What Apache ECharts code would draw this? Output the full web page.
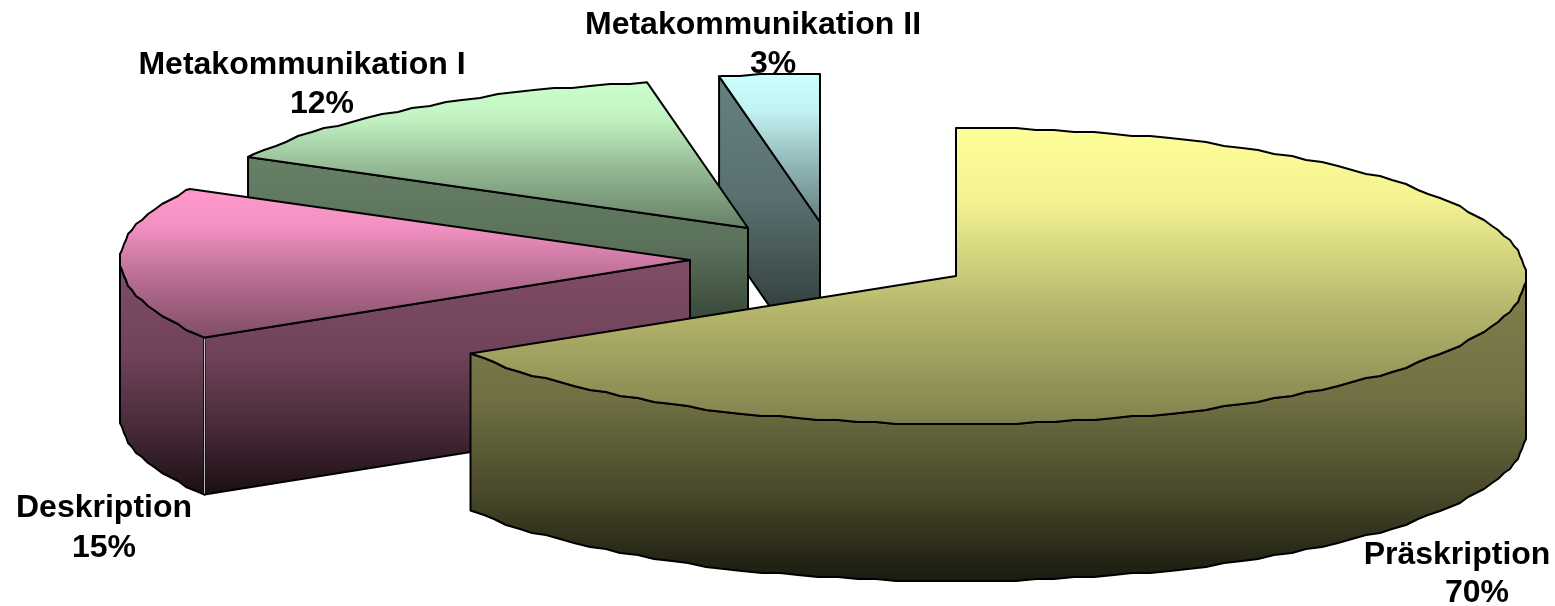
<!DOCTYPE html>
<html>
<head>
<meta charset="utf-8">
<style>html,body{margin:0;padding:0;background:#fff}#chart{width:1555px;height:606px}</style>
<script src="https://cdn.jsdelivr.net/npm/echarts@6/dist/echarts.min.js"></script>
</head>
<body>
<div id="chart"></div>
<script>
// Share of each text category, clockwise from twelve o'clock.
const categories = ['Präskription', 'Deskription', 'Metakommunikation I', 'Metakommunikation II'];
const shares = [70, 15, 12, 3];
const baseColors = [[255, 255, 153], [255, 153, 204], [204, 255, 204], [204, 255, 255]];

// Projection of the tilted disc.
const RX = 570, RY = 148, DEPTH = 157, SNAP = 2, ARC_STEP = 2;
// Perspective shift (degrees) of each slice boundary on the projected rim.
const boundaryShift = [0, -13.6, -7.3, 0.6, 0];
// Exploded apex of each slice and the placement of its two label lines.
const apexes = [[956, 276], [690, 260], [748, 228], [820, 222]];
const labelSpots = [
  { name: [1457, 565], pct: [1477, 603] },
  { name: [104, 518], pct: [104, 558] },
  { name: [302, 75], pct: [322, 114] },
  { name: [753, 35], pct: [773, 74] }
];
// Brightness falloff down the top faces and the side walls.
const topFade = [[0, 1], [0.25, 0.95], [0.6, 0.72], [1, 0.5]];
const wallFade = [[0, 0.5], [0.4, 0.44], [0.7, 0.29], [1, 0.1]];

const total = shares.reduce((a, b) => a + b, 0);
const cumulative = [0];
shares.forEach((v, i) => cumulative.push(cumulative[i] + v));
const angleAt = i => cumulative[i] / total * 360 + boundaryShift[i];

function snap(v) { return Math.round(v / SNAP) * SNAP; }

function rimPoint(apex, deg, dy) {
  const r = deg * Math.PI / 180;
  return [apex[0] + RX * Math.sin(r), apex[1] - RY * Math.cos(r) + (dy || 0)];
}

// Rim polyline sampled on a fixed angular grid, so that the top face and
// the wall beneath it share exactly the same edge.
function rimArc(apex, from, to, dy) {
  const lo = Math.min(from, to), hi = Math.max(from, to);
  const pts = [rimPoint(apex, lo, dy)];
  for (let d = Math.ceil(lo / ARC_STEP + 0.01) * ARC_STEP; d < hi; d += ARC_STEP) {
    const p = rimPoint(apex, d);
    pts.push([snap(p[0]), snap(p[1]) + (dy || 0)]);
  }
  pts.push(rimPoint(apex, hi, dy));
  return from <= to ? pts : pts.reverse();
}

function shade(rgb, f) {
  return `rgb(${rgb.map(c => Math.round(c * f)).join(',')})`;
}

function gradient(pts, rgb, fade) {
  // Vertical fade across the bounding box of the face, in absolute pixels.
  const ys = pts.map(p => p[1]);
  const y0 = Math.min(...ys), y1 = Math.max(...ys);
  return new echarts.graphic.LinearGradient(0, y0, 0, y1,
    fade.map(([offset, f]) => ({ offset, color: shade(rgb, f) })), true);
}

function face(pts, fill) {
  return {
    type: 'polygon',
    shape: { points: pts },
    style: { fill, stroke: '#000', lineWidth: 2, lineJoin: 'round' }
  };
}

function textLine(text, at) {
  return {
    type: 'text',
    style: {
      text, x: at[0], y: at[1] + 6, align: 'center', verticalAlign: 'bottom',
      font: 'bold 32px "Liberation Sans", Arial, sans-serif', fill: '#000'
    }
  };
}

function outerWall(apex, from, to) {
  return rimArc(apex, from, to).concat(rimArc(apex, to, from, DEPTH));
}

function renderSlice(params, api) {
  const i = api.value(1);
  const rgb = baseColors[i];
  const apex = apexes[i];
  const a0 = angleAt(i), a1 = angleAt(i + 1);
  const children = [
    textLine(categories[i], labelSpots[i].name),
    textLine(api.value(0) + '%', labelSpots[i].pct)
  ];

  const sideFace = (deg) => {
    const p = rimPoint(apex, deg);
    return [p, apex, [apex[0], apex[1] + DEPTH], [p[0], p[1] + DEPTH]];
  };

  // Radial wall that looks toward the viewer, then the curved rim wall.
  if (i === 0) {
    const wall = outerWall(apex, 90, a1);
    children.push(face(wall, gradient(wall, rgb, wallFade)));
  } else if (i === 1) {
    const flat = sideFace(a0);
    const curve = outerWall(apex, a0, 270);
    const fill = gradient(flat.concat(curve), rgb, wallFade);
    children.push(face(curve, fill), face(flat, fill));
    const r = rimPoint(apex, a0);
    children.push({
      type: 'line',
      shape: { x1: r[0], y1: r[1] + 1, x2: r[0], y2: r[1] + DEPTH - 1 },
      style: { stroke: '#c4c4c4', lineWidth: 1 }
    });
  } else {
    const flat = sideFace(a0);
    children.push(face(flat, gradient(flat, rgb, wallFade)));
  }

  // Top face of the wedge.
  const top = [apex].concat(rimArc(apex, a0, a1));
  children.push(face(top, gradient(top, rgb, topFade)));

  return { type: 'group', children };
}

const sliceRows = shares.map((v, i) => [v, i]).reverse();

const chart = echarts.init(document.getElementById('chart'), null, { renderer: 'canvas' });
chart.setOption({
  animation: false,
  backgroundColor: '#fff',
  series: [{
    type: 'custom',
    coordinateSystem: 'none',
    renderItem: renderSlice,
    data: sliceRows,
    silent: true
  }]
});
</script>
</body>
</html>
